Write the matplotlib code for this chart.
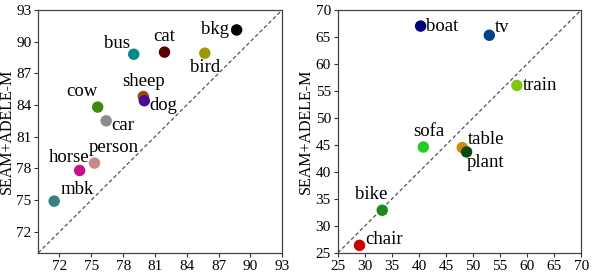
import matplotlib
matplotlib.use("Agg")
import matplotlib.pyplot as plt

plt.rcParams['font.family'] = ['Liberation Serif', 'DejaVu Serif']

# Left panel data
left_names = ['bkg', 'bus', 'cat', 'bird', 'sheep', 'dog', 'cow', 'car', 'person', 'horse', 'mbk']
left_x = [88.7, 79.0, 81.9, 85.7, 79.9, 80.0, 75.6, 76.4, 75.3, 73.9, 71.5]
left_y = [91.1, 88.8, 89.0, 88.9, 84.8, 84.4, 83.8, 82.5, 78.5, 77.8, 74.9]
left_colors = ['#000000', '#008b8b', '#5a0000', '#9a9a00', '#9a4a00', '#4b0a9a',
               '#3f8a0a', '#8c8c8c', '#c88888', '#c8108a', '#3a8080']
# (dx, dy, ha, va) in pixels
left_offsets = [(-8, 0, 'right', 'center'), (-4, 2, 'right', 'bottom'), (0, 7, 'center', 'bottom'),
                (0, -6, 'center', 'top'), (0, 7, 'center', 'bottom'), (5, -5, 'left', 'center'),
                (0, 7, 'right', 'bottom'), (5, -5, 'left', 'center'), (-6, 7, 'left', 'bottom'),
                (-11, 4, 'center', 'bottom'), (6, 3, 'left', 'bottom')]
left_ticks = [72, 75, 78, 81, 84, 87, 90, 93]

# Right panel data
right_names = ['boat', 'tv', 'train', 'sofa', 'table', 'plant', 'bike', 'chair']
right_x = [40.3, 53.0, 58.1, 40.8, 48.0, 48.8, 33.2, 29.0]
right_y = [67.0, 65.3, 56.0, 44.6, 44.5, 43.7, 32.9, 26.4]
right_colors = ['#00007a', '#00458a', '#80c810', '#22cc22', '#d08a10', '#0a4a0a',
                '#1a8a1a', '#c80000']
right_offsets = [(5, 0, 'left', 'center'), (6, 8, 'left', 'center'), (6, 0, 'left', 'center'),
                 (6, 16, 'center', 'center'), (6, 8, 'left', 'center'), (0, -11, 'left', 'center'),
                 (-11, 16, 'center', 'center'), (6, 6, 'left', 'center')]
right_ticks = [25, 30, 35, 40, 45, 50, 55, 60, 65, 70]

fig = plt.figure(figsize=(5.98, 2.74), dpi=100)
ax1 = fig.add_axes([0.064, 0.077, 0.408, 0.887])
ax2 = fig.add_axes([0.565, 0.077, 0.407, 0.887])

def draw(ax, xs, ys, names, colors, offsets, lo, hi, ticks, labx):
    ax.plot([lo, hi], [lo, hi], ls='--', color='#555555', lw=0.9, dashes=(3, 2), zorder=1)
    for x, y, n, c, (dx, dy, ha, va) in zip(xs, ys, names, colors, offsets):
        ax.scatter([x], [y], s=68, color=c, zorder=3, edgecolors='none')
        ax.annotate(n, (x, y), xytext=(dx, dy), textcoords='offset pixels',
                    ha=ha, va=va, fontsize=13.5)
    ax.set_xlim(lo, hi)
    ax.set_ylim(lo, hi)
    ax.set_xticks(ticks)
    ax.set_yticks(ticks)
    ax.tick_params(labelsize=11, length=3, width=0.8, pad=2, color='#333333')
    for s in ax.spines.values():
        s.set_color('#444444')
        s.set_linewidth(0.9)
    ax.set_ylabel('SEAM+ADELE-M', fontsize=11.5, va='center')
    ax.yaxis.set_label_coords(labx, 0.5)

draw(ax1, left_x, left_y, left_names, left_colors, left_offsets, 70, 93, left_ticks, -0.128)
draw(ax2, right_x, right_y, right_names, right_colors, right_offsets, 25, 70, right_ticks, -0.13)

fig.savefig('out.png', dpi=100)
